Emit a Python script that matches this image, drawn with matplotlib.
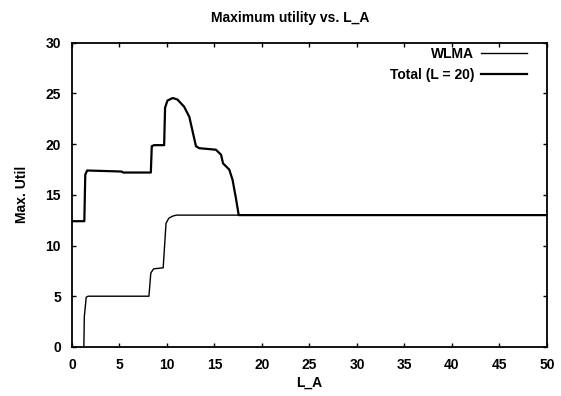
import matplotlib
matplotlib.use("Agg")
import matplotlib.pyplot as plt

plt.rcParams['font.family'] = ['Liberation Sans', 'DejaVu Sans']
plt.rcParams['font.weight'] = 'bold'
plt.rcParams['axes.labelweight'] = 'bold'

# Total (L = 20)
total_x = [0, 1.3, 1.4, 1.6, 5.2, 5.4, 8.3, 8.4, 8.65, 9.7, 9.8, 10.05, 10.6,
           11.1, 11.8, 12.35, 12.7, 13.05, 13.4, 15.15, 15.7, 15.9, 16.55, 16.9,
           17.25, 17.55, 50]
total_y = [12.4, 12.4, 17.0, 17.4, 17.3, 17.2, 17.2, 19.8, 19.9, 19.9, 23.6, 24.3,
           24.55, 24.4, 23.7, 22.7, 21.25, 19.8, 19.6, 19.45, 18.95, 18.1, 17.5,
           16.5, 14.7, 13.0, 13.0]

# WLMA
wlma_x = [1.25, 1.3, 1.5, 1.7, 8.1, 8.3, 8.6, 9.6, 9.75, 9.9, 10.2, 10.6, 11.0, 11.6, 50]
wlma_y = [0, 3.0, 4.9, 5.0, 5.0, 7.3, 7.7, 7.8, 10.0, 12.2, 12.7, 12.9, 13.0, 13.0, 13.0]

xticks = [0, 5, 10, 15, 20, 25, 30, 35, 40, 45, 50]
yticks = [0, 5, 10, 15, 20, 25, 30]

fig = plt.figure(figsize=(5.61, 3.96), dpi=100)
ax = fig.add_axes([0.1283, 0.124, 0.8467, 0.768])

ax.plot(wlma_x, wlma_y, color='black', lw=1.0, label='WLMA')
ax.plot(total_x, total_y, color='black', lw=1.6, label='Total (L = 20)')

ax.set_xlim(0, 50)
ax.set_ylim(0, 30)
ax.set_xticks(xticks)
ax.set_yticks(yticks)
ax.tick_params(direction='in', top=True, right=True, length=3, width=1,
               labelsize=10)
ax.tick_params(axis='x', pad=8)
ax.tick_params(axis='y', pad=8)
for s in ax.spines.values():
    s.set_linewidth(1.3)

fig.text(0.517, 0.955, 'Maximum utility vs. L_A', fontsize=10, ha='center',
         va='center', fontweight='bold')
ax.set_xlabel('L_A', fontsize=10, labelpad=3, fontweight='bold')
ax.set_ylabel('Max. Util', fontsize=10, labelpad=12, fontweight='bold')

leg = ax.legend(loc='upper right', bbox_to_anchor=(0.958, 0.985), frameon=False,
                markerfirst=False, fontsize=10, handlelength=3.3,
                borderpad=0, borderaxespad=0, labelspacing=0.5, handletextpad=0.5)

fig.savefig('out.png', dpi=100)
